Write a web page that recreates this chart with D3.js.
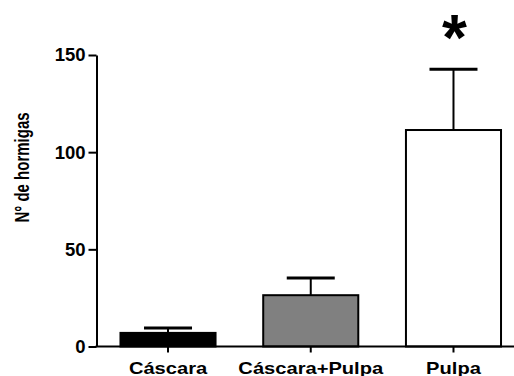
<!DOCTYPE html>
<html>
<head>
<meta charset="utf-8">
<script src="https://cdn.jsdelivr.net/npm/d3@7"></script>
<style>
  html, body { margin: 0; padding: 0; background: #fff; }
  svg { display: block; }
  text { font-family: "Liberation Sans", Arial, sans-serif; font-weight: bold; fill: #000; }
</style>
</head>
<body>
<svg id="chart" width="514" height="376"></svg>
<script>
// Ant counts per bait type (mean + upper error)
const categories = ["Cáscara", "Cáscara+Pulpa", "Pulpa"];
const means = [7.0, 26.4, 111.4];
const errors = [2.5, 8.9, 31.3];
const fills = ["#000000", "#808080", "#ffffff"];
const yTicks = [0, 50, 100, 150];
const significant = [false, false, true];

const W = 514, H = 376;
const svg = d3.select("#chart");

const x0 = 96.5, yBase = 346.5, yTop = 55;

const x = d3.scaleBand()
  .domain(categories)
  .range([x0, 525])
  .paddingInner(0.334)
  .paddingOuter(0.168);

const y = d3.scaleLinear()
  .domain([0, 150])
  .range([yBase, yTop]);

// bars
svg.append("g").selectAll("rect")
  .data(categories)
  .join("rect")
  .attr("x", d => x(d))
  .attr("y", (d, i) => y(means[i]))
  .attr("width", x.bandwidth())
  .attr("height", (d, i) => yBase - y(means[i]))
  .attr("fill", (d, i) => fills[i])
  .attr("stroke", "#000")
  .attr("stroke-width", 2);

// upper error bars
const eb = svg.append("g");
categories.forEach((c, i) => {
  const cx = x(c) + x.bandwidth() / 2;
  eb.append("line")
    .attr("x1", cx).attr("x2", cx)
    .attr("y1", y(means[i])).attr("y2", y(means[i] + errors[i]))
    .attr("stroke", "#000").attr("stroke-width", 2);
  eb.append("line")
    .attr("x1", cx - 24).attr("x2", cx + 24)
    .attr("y1", y(means[i] + errors[i])).attr("y2", y(means[i] + errors[i]))
    .attr("stroke", "#000").attr("stroke-width", 3);
});

// significance marker
categories.forEach((c, i) => {
  if (!significant[i]) return;
  svg.append("text")
    .attr("x", x(c) + x.bandwidth() / 2 + 1)
    .attr("y", 60)
    .attr("text-anchor", "middle")
    .style("font-size", "64px")
    .text("*");
});

// y axis
const yAxis = svg.append("g")
  .attr("transform", `translate(${x0},0)`)
  .call(d3.axisLeft(y).tickValues(yTicks).tickSize(8).tickPadding(3).tickSizeOuter(0));
yAxis.select(".domain").attr("stroke-width", 2);
yAxis.selectAll(".tick line").attr("stroke-width", 2);
yAxis.selectAll(".tick text").style("font-size", "18.5px").attr("font-family", null);

// x axis
const xAxis = svg.append("g")
  .attr("transform", `translate(0,${yBase})`)
  .call(d3.axisBottom(x).tickSize(6).tickSizeOuter(0).tickPadding(0));
xAxis.select(".domain").remove();
xAxis.append("line")
  .attr("x1", x0 - 1).attr("x2", W)
  .attr("y1", 0).attr("y2", 0)
  .attr("stroke", "#000").attr("stroke-width", 2);
xAxis.selectAll(".tick line").attr("stroke-width", 2);
xAxis.selectAll(".tick text")
  .attr("y", null).attr("dy", null)
  .attr("font-family", null)
  .style("font-size", "16.5px")
  .attr("transform", "translate(0,27) scale(1.22,1)");

// y axis title
svg.append("text")
  .attr("transform", "translate(28.5,167.5) rotate(-90) scale(1,1.4)")
  .attr("text-anchor", "middle")
  .style("font-size", "15px")
  .text("N° de hormigas");
</script>
</body>
</html>
